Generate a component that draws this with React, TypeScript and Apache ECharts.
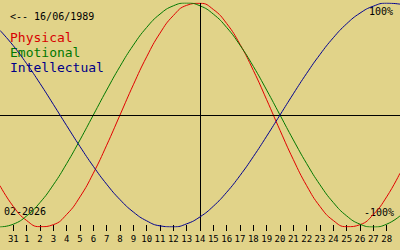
import React, { useEffect, useRef } from "react";
import * as echarts from "echarts";

// Day offsets 0..30 (0 = 30 Jan, 15 = 14 Feb 2026, 30 = 1 Mar)
const days: number[] = [0, 1, 2, 3, 4, 5, 6, 7, 8, 9, 10, 11, 12, 13, 14, 15, 16, 17, 18, 19, 20, 21, 22, 23, 24, 25, 26, 27, 28, 29, 30];
const tickDays: number[] = [1, 2, 3, 4, 5, 6, 7, 8, 9, 10, 11, 12, 13, 14, 15, 16, 17, 18, 19, 20, 21, 22, 23, 24, 25, 26, 27, 28, 29];
const tickLabels: string[] = ["31", "1", "2", "3", "4", "5", "6", "7", "8", "9", "10", "11", "12", "13", "14", "15", "16", "17", "18", "19", "20", "21", "22", "23", "24", "25", "26", "27", "28"];
const todayDay = 15;

const physical: number[] = [
  -0.6311, -0.817, -0.9423, -0.9977, -0.9791, -0.8879, -0.7308, -0.5196, -0.2698, 0,
  0.2698, 0.5196, 0.7308, 0.8879, 0.9791, 0.9977, 0.9423, 0.817, 0.6311, 0.3984,
  0.1362, -0.1362, -0.3984, -0.6311, -0.817, -0.9423, -0.9977, -0.9791, -0.8879, -0.7308,
  -0.5196,
];
const emotional: number[] = [
  -1, -0.9749, -0.901, -0.7818, -0.6235, -0.4339, -0.2225, 0, 0.2225, 0.4339,
  0.6235, 0.7818, 0.901, 0.9749, 1, 0.9749, 0.901, 0.7818, 0.6235, 0.4339,
  0.2225, 0, -0.2225, -0.4339, -0.6235, -0.7818, -0.901, -0.9749, -1, -0.9749,
  -0.901,
];
const intellectual: number[] = [
  0.7557, 0.6182, 0.4582, 0.2817, 0.0951, -0.0951, -0.2817, -0.4582, -0.6182, -0.7557,
  -0.866, -0.945, -0.9898, -0.9989, -0.9718, -0.9096, -0.8146, -0.6901, -0.5406, -0.3717,
  -0.1893, 0, 0.1893, 0.3717, 0.5406, 0.6901, 0.8146, 0.9096, 0.9718, 0.9989,
  0.9898,
];

const birthLabel = "<-- 16/06/1989";
const monthLabel = "02-2026";
const legendNames = ["Physical", "Emotional", "Intellectual"];
const colors = ["#e00000", "#007800", "#000090"];
const textColors = ["#d80000", "#007800", "#000088"];

const MONO = "'DejaVu Sans Mono', 'Liberation Mono', monospace";

export default function App() {
  const ref = useRef<HTMLDivElement>(null);
  useEffect(() => {
    if (!ref.current) return;
    const chart = echarts.init(ref.current, null, { renderer: "svg" });
    const seriesData = [physical, emotional, intellectual];
    chart.setOption({
      animation: false,
      backgroundColor: "#e1d389",
      grid: { left: 0, right: 0, top: 3, height: 224 },
      xAxis: {
        type: "value",
        min: 0,
        max: 30,
        interval: 1,
        position: "bottom",
        offset: -2,
        splitLine: { show: false },
        axisLine: { show: false, onZero: false },
        axisTick: {
          show: true,
          customValues: tickDays,
          length: 6,
          lineStyle: { color: "#000", width: 1 },
        },
        axisLabel: {
          show: true,
          customValues: tickDays,
          margin: 9,
          fontFamily: MONO,
          fontSize: 9,
          color: "#000",
          formatter: (v: number) => tickLabels[v - 1] ?? "",
        },
      },
      yAxis: {
        type: "value",
        min: -1,
        max: 1,
        show: false,
        splitLine: { show: false },
      },
      series: seriesData.map((vals, i) => ({
        type: "line",
        name: legendNames[i],
        data: days.map((d, j) => [d, vals[j]]),
        smooth: 0.5,
        showSymbol: false,
        symbol: "none",
        lineStyle: { color: colors[i], width: 1 },
        z: 3 + i,
        ...(i === 0
          ? {
              markLine: {
                silent: true,
                symbol: "none",
                label: { show: false },
                lineStyle: { color: "#000", width: 1, type: "solid" },
                data: [{ xAxis: todayDay }, { yAxis: 0 }],
              },
            }
          : {}),
      })),
      graphic: [
        {
          type: "text",
          left: 10,
          top: 11,
          style: { text: birthLabel, fill: "#000", font: `10px ${MONO}` },
        },
        ...legendNames.map((n, i) => ({
          type: "text",
          left: 10,
          top: 31 + i * 15,
          style: { text: n, fill: textColors[i], font: `13px ${MONO}` },
        })),
        {
          type: "text",
          right: 7,
          top: 6,
          style: { text: "100%", fill: "#000", font: `10px ${MONO}` },
        },
        {
          type: "text",
          right: 6,
          top: 207,
          style: { text: "-100%", fill: "#000", font: `10px ${MONO}` },
        },
        {
          type: "text",
          left: 4,
          top: 206,
          style: { text: monthLabel, fill: "#000", font: `10px ${MONO}` },
        },
      ],
    });
    return () => chart.dispose();
  }, []);
  return (
    <div
      ref={ref}
      style={{ position: "fixed", left: 0, top: 0, width: 400, height: 250 }}
    />
  );
}
